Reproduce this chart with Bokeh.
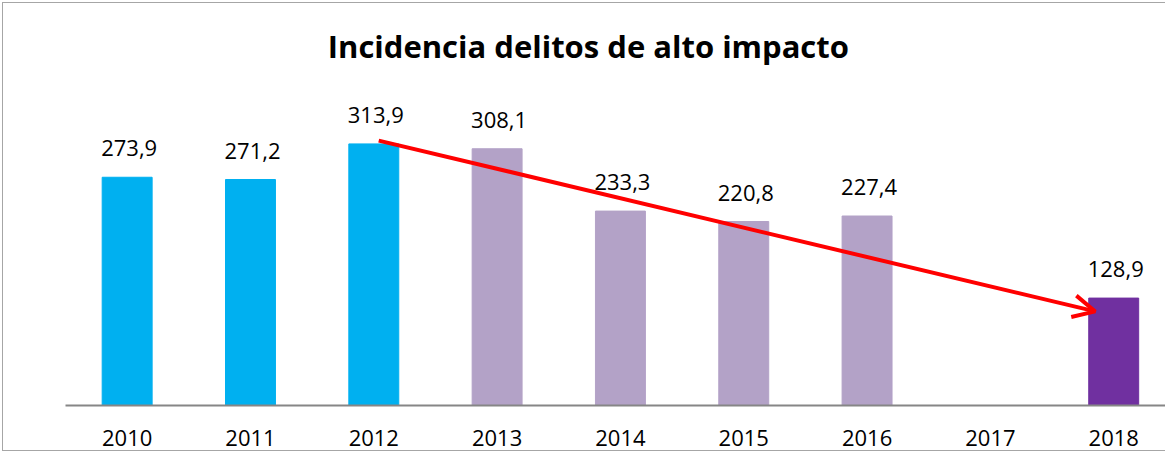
from bokeh.plotting import figure
from bokeh.models import Range1d, Label, Arrow, OpenHead, ColumnDataSource, FixedTicker
from bokeh.core.properties import value
from bokeh.embed import file_html
from bokeh.resources import INLINE

title = "Incidencia delitos de alto impacto"
years = ["2010", "2011", "2012", "2013", "2014", "2015", "2016", "2017", "2018"]
values = [273.9, 271.2, 313.9, 308.1, 233.3, 220.8, 227.4, None, 128.9]
colors = ["#00B0F0", "#00B0F0", "#00B0F0", "#B3A2C7", "#B3A2C7", "#B3A2C7", "#B3A2C7", None, "#7030A0"]

FONT = "Open Sans"

xs, ys, cs, ls = [], [], [], []
for i, v in enumerate(values):
    if v is None:
        continue
    xs.append(i)
    ys.append(v)
    cs.append(colors[i])
    ls.append(f"{v:.1f}".replace(".", ","))
src = ColumnDataSource(dict(x=xs, top=ys, color=cs, label=ls))

p = figure(width=1165, height=451,
           x_range=Range1d(-0.5, 8.42), y_range=Range1d(0, 474),
           output_backend="svg", toolbar_location=None,
           min_border_left=65, min_border_right=0,
           min_border_top=10, min_border_bottom=46)

p.vbar(x="x", top="top", bottom=0, width=0.405, color="color", source=src)
p.text(x="x", y="top", text="label", source=src, text_align="center",
       text_baseline="alphabetic", y_offset=-29, x_offset=2,
       text_font=value(FONT), text_font_size="22px", text_color="#000000")

p.add_layout(Arrow(x_start=2 + 0.04, y_start=values[2] + 4,
                   x_end=8 - 0.15, y_end=values[8] - 16,
                   line_color="#FF0000", line_width=4,
                   end=OpenHead(line_color="#FF0000", line_width=4, size=22)))

p.add_layout(Label(x=3.74, y=432, text=title, text_align="center",
                   text_baseline="alphabetic", text_font=FONT,
                   text_font_size="31px", text_font_style="bold",
                   text_color="#000000"))

p.yaxis.visible = False
p.xgrid.grid_line_color = None
p.ygrid.grid_line_color = None
p.outline_line_color = None
p.border_fill_color = None
p.background_fill_color = None

ax = p.xaxis[0]
ax.ticker = FixedTicker(ticks=list(range(len(years))))
ax.major_label_overrides = {i: y for i, y in enumerate(years)}
ax.major_tick_line_color = None
ax.minor_tick_line_color = None
ax.axis_line_color = "#868686"
ax.axis_line_width = 2
ax.major_label_text_font = FONT
ax.major_label_text_font_size = "22px"
ax.major_label_text_color = "#000000"
ax.major_label_standoff = 18

g = "linear-gradient(#a6a6a6,#a6a6a6)"
p.styles = {
    "background": (
        f"{g} left 2px top 2px / 1px 100% no-repeat, "
        f"{g} left 2px top 2px / 100% 1px no-repeat, "
        f"{g} left 2px bottom 0px / 100% 1px no-repeat, "
        "#ffffff"
    )
}

open("out.html", "w").write(file_html(p, INLINE))
